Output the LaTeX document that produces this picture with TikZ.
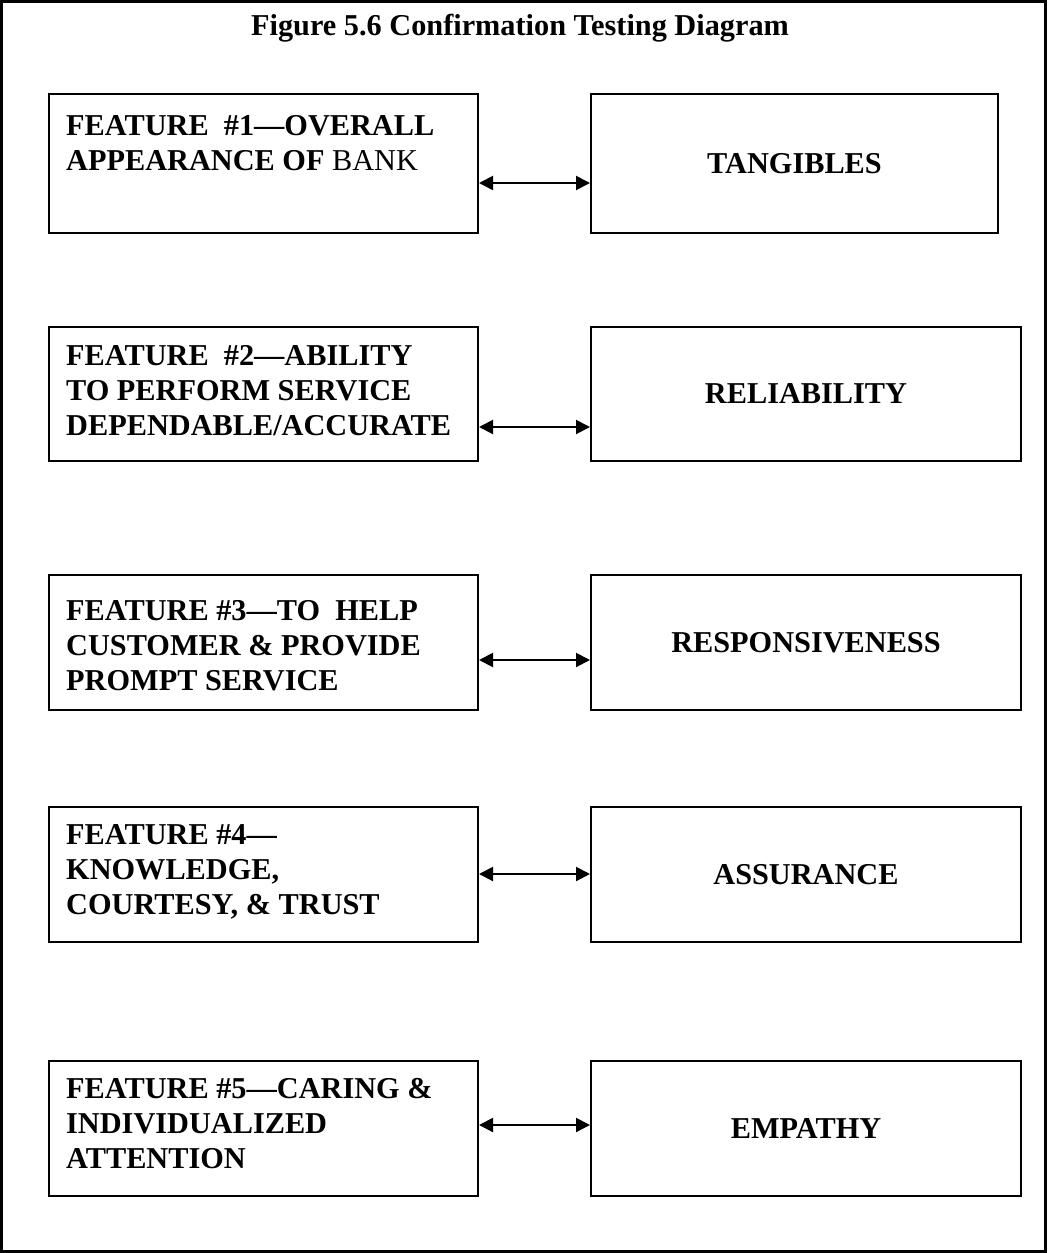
\documentclass[tikz,border=0pt]{standalone}
\usepackage{fontspec}
\setmainfont{Liberation Serif}
\usetikzlibrary{arrows.meta}
\begin{document}
\begin{tikzpicture}[x=1pt,y=-1pt,
  every node/.style={font=\fontsize{30.3}{35}\selectfont\bfseries},
  frame/.style={draw=black,line width=2.5},
  featbox/.style={draw=black,line width=2,inner sep=0,minimum width=429,anchor=north west},
  dimbox/.style={draw=black,line width=2,inner sep=0,anchor=north west},
  feattext/.style={anchor=base west,align=left,inner sep=0},
  dimtext/.style={inner sep=0},
  link/.style={line width=2,{Triangle[length=14,width=14]}-{Triangle[length=14,width=14]}}]
\useasboundingbox (0,0) rectangle (1047,1253);
% outer frame and heading
\draw[frame] (1.5,1.5) rectangle (1045.5,1251.5);
\node[anchor=base,inner sep=0] (title) at (520,35) {Figure 5.6 Confirmation Testing Diagram};

% left column: features
\node[featbox,minimum height=139] (f1) at (48,93) {};
\node[featbox,minimum height=134] (f2) at (48,326) {};
\node[featbox,minimum height=135] (f3) at (48,574) {};
\node[featbox,minimum height=135] (f4) at (48,806) {};
\node[featbox,minimum height=135] (f5) at (48,1060) {};

% (base anchor sits on the last line of each block)
\node[feattext] (t1) at (66,170) {FEATURE\ \ \#1—OVERALL\\APPEARANCE OF {\mdseries BANK}};
\node[feattext] (t2) at (66,435) {FEATURE\ \ \#2—ABILITY\\TO PERFORM SERVICE\\DEPENDABLE/ACCURATE};
\node[feattext] (t3) at (66,690) {FEATURE \#3—TO\ \ HELP\\CUSTOMER \& PROVIDE\\PROMPT SERVICE};
\node[feattext] (t4) at (66,914) {FEATURE \#4—\\KNOWLEDGE,\\COURTESY, \& TRUST};
\node[feattext] (t5) at (66,1168) {FEATURE \#5—CARING \&\\INDIVIDUALIZED\\ATTENTION};

% right column: service quality dimensions
\node[dimbox,minimum width=407,minimum height=139] (d1) at (590,93) {};
\node[dimbox,minimum width=430,minimum height=134] (d2) at (590,326) {};
\node[dimbox,minimum width=430,minimum height=135] (d3) at (590,574) {};
\node[dimbox,minimum width=430,minimum height=135] (d4) at (590,806) {};
\node[dimbox,minimum width=430,minimum height=135] (d5) at (590,1060) {};

\node[dimtext] (l1) at (d1.center) {TANGIBLES};
\node[dimtext] (l2) at (d2.center) {RELIABILITY};
\node[dimtext] (l3) at (d3.center) {RESPONSIVENESS};
\node[dimtext] (l4) at (d4.center) {ASSURANCE};
\node[dimtext] (l5) at (d5.center) {EMPATHY};

% two-way links
\coordinate (y1) at (0,183);
\coordinate (y2) at (0,427);
\coordinate (y3) at (0,660);
\coordinate (y4) at (0,874);
\coordinate (y5) at (0,1125);
\draw[link] (f1.east |- y1) -- (d1.west |- y1);
\draw[link] (f2.east |- y2) -- (d2.west |- y2);
\draw[link] (f3.east |- y3) -- (d3.west |- y3);
\draw[link] (f4.east |- y4) -- (d4.west |- y4);
\draw[link] (f5.east |- y5) -- (d5.west |- y5);
\end{tikzpicture}
\end{document}
